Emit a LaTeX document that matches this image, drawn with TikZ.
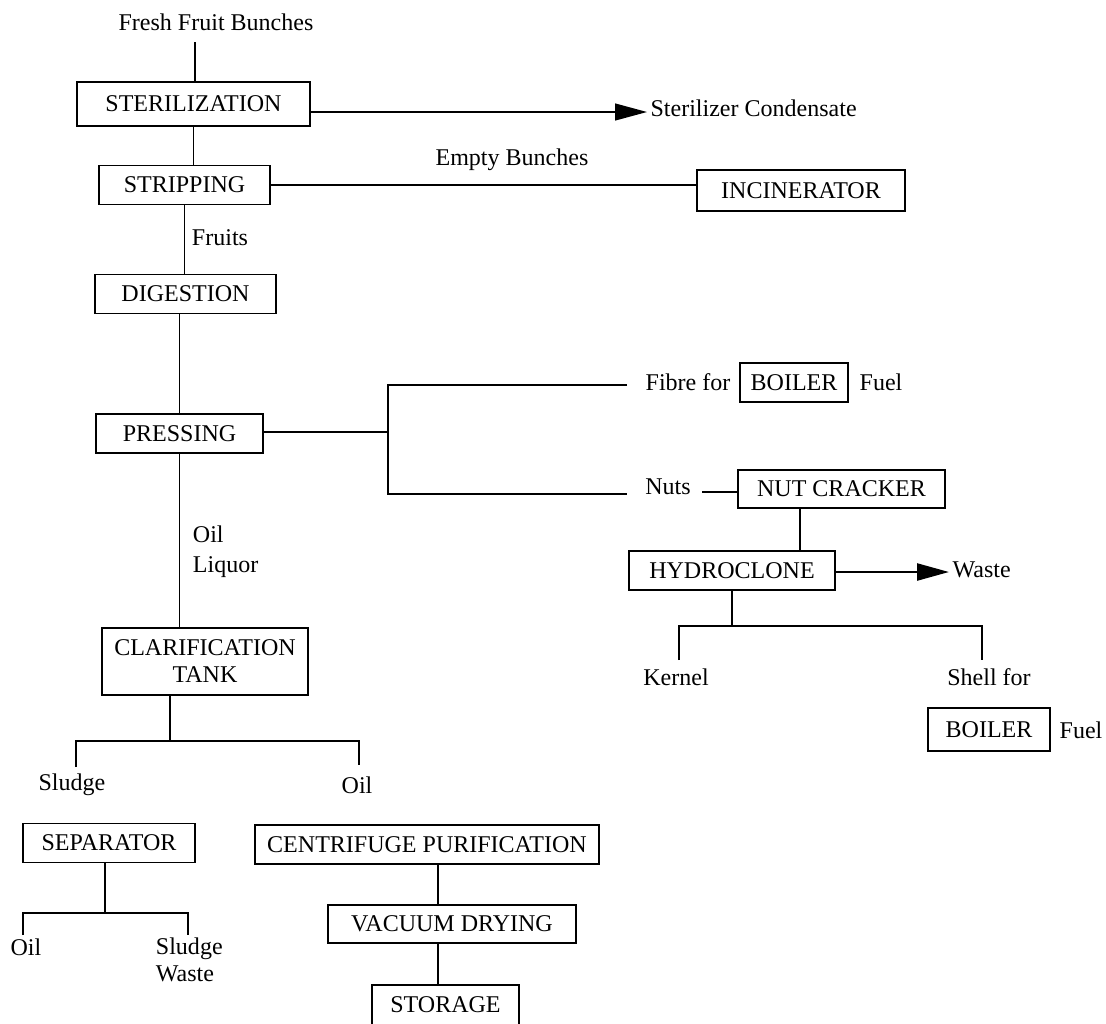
\documentclass[tikz,border=0pt]{standalone}
\usepackage{fontspec}
\setmainfont{Liberation Serif}
\usetikzlibrary{arrows.meta,calc}

\begin{document}
\begin{tikzpicture}[x=0.533pt,y=-0.533pt,line width=0.75pt,
    font=\fontsize{12.8}{14.4}\selectfont,
    box/.style={draw,inner sep=0pt,minimum height=21pt},
    tip/.style={-{Triangle[length=17pt,width=9pt]}}]
  \useasboundingbox (0,0) rectangle (1106,1023);
  % main line
  \node (ffb) at (216,22) {Fresh Fruit Bunches};
  \node[box,minimum width=124pt,minimum height=23.5pt] (ster) at (193.5,104) {STERILIZATION\hspace{12pt}};
  \node[box,minimum width=91pt] (strip) at (184.5,185) {STRIPPING\hspace{10pt}};
  \node[box,minimum width=110.9pt,minimum height=21.9pt] (incin) at (801,190.5) {INCINERATOR};
  \node[box,minimum width=96.5pt] (dig) at (185.5,294) {DIGESTION\hspace{10pt}};
  \node[box,minimum width=89pt,minimum height=20.8pt] (press) at (179.5,433.5) {PRESSING\hspace{10pt}};
  \node[box,minimum width=109.8pt,minimum height=35.7pt,align=center] (clar) at (205,661.5) {CLARIFICATION\\TANK\hspace{10pt}};
  \node[box,minimum width=91.7pt] (sep) at (109,843) {SEPARATOR\hspace{4pt}};
  \node[box,minimum width=183.4pt,minimum height=20.8pt] (cp) at (427,844.5) {CENTRIFUGE PURIFICATION};
  \node[box,minimum width=132.2pt,minimum height=20.3pt] (vd) at (452,924) {VACUUM DRYING\hspace{6pt}};
  \node[box,minimum width=78.4pt,minimum height=21.3pt] (stor) at (445.5,1005) {STORAGE};
  % nut side
  \node[box,minimum width=57.6pt,minimum height=20.8pt] (boil1) at (794,382.5) {BOILER};
  \node[box,minimum width=110.3pt,minimum height=20.3pt] (nutc) at (841.5,489) {NUT CRACKER};
  \node[box,minimum width=109.8pt,minimum height=20.8pt] (hyd) at (732,570.5) {HYDROCLONE\hspace{10pt}};
  \node[box,minimum width=65pt,minimum height=22.9pt] (boil2) at (989,729.5) {BOILER};

  % labels
  \node (fruits) at (220,238) {Fruits};
  \node[anchor=west,align=left,font=\fontsize{12.8}{16}\selectfont] (liq) at (186,552) {Oil\\Liquor};
  \node (empty) at (512,160) {Empty Bunches};
  \node (fibre) at (688,382) {Fibre for};
  \node (fuel1) at (881,382) {Fuel};
  \node (nuts) at (668,487) {Nuts};
  \node (kern) at (676,677) {Kernel};
  \node (shell) at (989,677) {Shell for};
  \node (fuel2) at (1081,730) {Fuel};
  \node (sludge) at (72,785) {Sludge};
  \node (oil1) at (357,785) {Oil};
  \node (oil2) at (26,947) {Oil};
  \node[anchor=west,align=left] (sw) at (149,960) {Sludge\\Waste};

  % connectors
  \coordinate (c1) at (195,42);
  \draw (c1) -- (c1 |- ster.north);
  \draw (ster.south) -- (ster.south |- strip.north);
  \draw (strip.south) -- (strip.south |- dig.north);
  \draw (press.north |- dig.south) -- (press.north);
  \draw (press.south) -- (press.south |- clar.north);

  \coordinate (cond) at (647,112);
  \draw[tip] (ster.east |- cond) -- (cond);
  \node[anchor=base west,inner sep=1pt] (condl) at (648,116) {Sterilizer Condensate};
  \draw (strip.east) -- (strip.east -| incin.west);

  \coordinate (jn) at (388,432);
  \coordinate (fb) at (627,385);
  \coordinate (nt) at (627,494);
  \draw (press.east |- jn) -- (jn);
  \draw (fb) -| (jn) |- (nt);

  \coordinate (nc0) at (702,492);
  \draw (nc0) -- (nc0 -| nutc.west);
  \coordinate (nc1) at (800,0);
  \draw (nutc.south -| nc1) -- (hyd.north -| nc1);
  \coordinate (ws) at (949,572);
  \draw[tip,line width=1.4pt] (hyd.east |- ws) -- (ws);
  \node[anchor=base west,inner sep=1pt] (waste) at (950,577) {Waste};
  \coordinate (kb) at (732,626);
  \coordinate (kn) at (679,660);
  \coordinate (sh) at (982,660);
  \draw (hyd.south) -- (kb);
  \draw (kn) |- (kb) -| (sh);

  \coordinate (cl) at (170,741);
  \coordinate (sl) at (76,767);
  \coordinate (ol) at (359,765);
  \draw (cl |- clar.south) -- (cl);
  \draw (sl) |- (cl) -| (ol);

  \coordinate (sp) at (105,913);
  \coordinate (so) at (23,935);
  \coordinate (sg) at (188,935);
  \draw (sep.south -| sp) -- (sp);
  \draw (so) |- (sp) -| (sg);

  \coordinate (ax) at (438,0);
  \draw (cp.south -| ax) -- (vd.north -| ax);
  \draw (vd.south -| ax) -- (stor.north -| ax);
\end{tikzpicture}
\end{document}
